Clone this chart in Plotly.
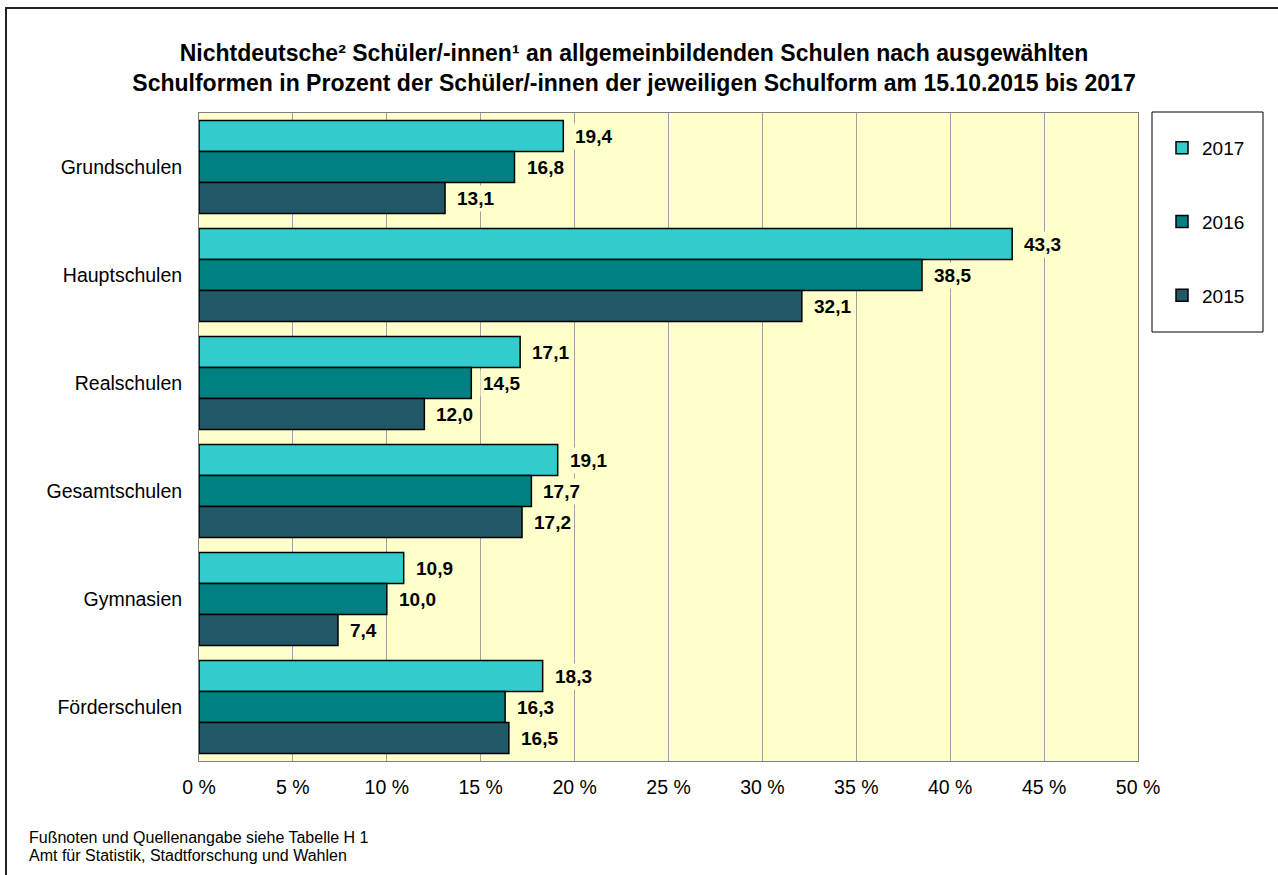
import plotly.graph_objects as go

categories = ["Grundschulen", "Hauptschulen", "Realschulen", "Gesamtschulen", "Gymnasien", "Förderschulen"]
years = ["2017", "2016", "2015"]
values_2017 = [19.4, 43.3, 17.1, 19.1, 10.9, 18.3]
values_2016 = [16.8, 38.5, 14.5, 17.7, 10.0, 16.3]
values_2015 = [13.1, 32.1, 12.0, 17.2, 7.4, 16.5]
colors = ["#33CCCC", "#008080", "#215968"]
tick_vals = [0, 5, 10, 15, 20, 25, 30, 35, 40, 45, 50]
tick_text = [f"{v} %" for v in tick_vals]
footnotes = ["Fußnoten und Quellenangabe siehe Tabelle H 1",
             "Amt für Statistik, Stadtforschung und Wahlen"]

series = [values_2017, values_2016, values_2015]
FONT = "Liberation Sans, Arial, sans-serif"

W, H = 1278, 875
ml, mr, mt, mb = 199, 140, 113, 114
pw, ph = W - ml - mr, H - mt - mb


def px(xp):
    return (xp - ml) / pw


def py(yp):
    return (H - mb - yp) / ph


fig = go.Figure()
for yr, vals, col in zip(years, series, colors):
    fig.add_trace(go.Bar(
        y=categories, x=vals, name=yr, orientation="h",
        marker=dict(color=col, line=dict(color="black", width=1.5)),
        legendgroup=yr, hoverinfo="skip",
    ))

fmt = lambda v: f"{v:.1f}".replace(".", ",")
shifts = [31, 0, -31]
annotations = []
for vals, ys in zip(series, shifts):
    for cat, v in zip(categories, vals):
        annotations.append(dict(
            x=v, y=cat, xref="x", yref="y", text=fmt(v), showarrow=False,
            xanchor="left", yanchor="middle", xshift=9, yshift=ys,
            bgcolor="#FFFFCC", borderpad=2,
            font=dict(family=FONT, size=19, color="black", weight="bold"),
        ))

for line, yc in zip(footnotes, [837, 855]):
    annotations.append(dict(
        xref="paper", yref="paper", x=px(27), y=py(yc), xanchor="left", yanchor="middle",
        align="left", showarrow=False, text=line,
        font=dict(family=FONT, size=16, color="black"),
    ))

shapes = [
    dict(type="rect", xref="paper", yref="paper", x0=px(1152), x1=px(1263), y0=py(112), y1=py(332),
         line=dict(color="black", width=1), fillcolor="white", layer="below"),
    dict(type="rect", xref="paper", yref="paper", x0=px(6), x1=px(1300), y0=py(8), y1=py(900),
         line=dict(color="#222222", width=2), fillcolor="rgba(0,0,0,0)", layer="below"),
]

fig.update_layout(
    width=W, height=H,
    margin=dict(l=ml, r=mr, t=mt, b=mb),
    paper_bgcolor="white", plot_bgcolor="#FFFFCC",
    barmode="group", bargap=0.14, bargroupgap=0,
    font=dict(family=FONT, size=19, color="black"),
    title=dict(
        text="Nichtdeutsche² Schüler/-innen¹ an allgemeinbildenden Schulen nach ausgewählten<br>Schulformen in Prozent der Schüler/-innen der jeweiligen Schulform am 15.10.2015 bis 2017",
        x=634 / W, xref="container", xanchor="center", y=1 - 61 / H, yref="container", yanchor="middle",
        font=dict(family=FONT, size=23, color="black", weight="bold"),
    ),
    xaxis=dict(
        range=[0, 50], tickvals=tick_vals, ticktext=tick_text,
        showgrid=True, gridcolor="#A0A0A0", gridwidth=1,
        showline=True, linecolor="#808080", linewidth=1, mirror=True,
        ticks="", ticklen=0, zeroline=False, fixedrange=True,
        ticklabelstandoff=9, tickfont=dict(size=19.5),
    ),
    yaxis=dict(
        autorange="reversed", showline=True, linecolor="#808080", linewidth=1, mirror=True,
        ticks="", showgrid=False, ticklabelstandoff=12, tickfont=dict(size=19.5),
        fixedrange=True,
    ),
    legend=dict(
        x=px(1162), y=py(129), xanchor="left", yanchor="top",
        bgcolor="rgba(0,0,0,0)", borderwidth=0, tracegroupgap=46,
        font=dict(size=19), itemwidth=30,
    ),
    annotations=annotations, shapes=shapes,
)

fig.write_html("out.html", config={"displayModeBar": False},
               post_script="document.body.style.margin='0';")
